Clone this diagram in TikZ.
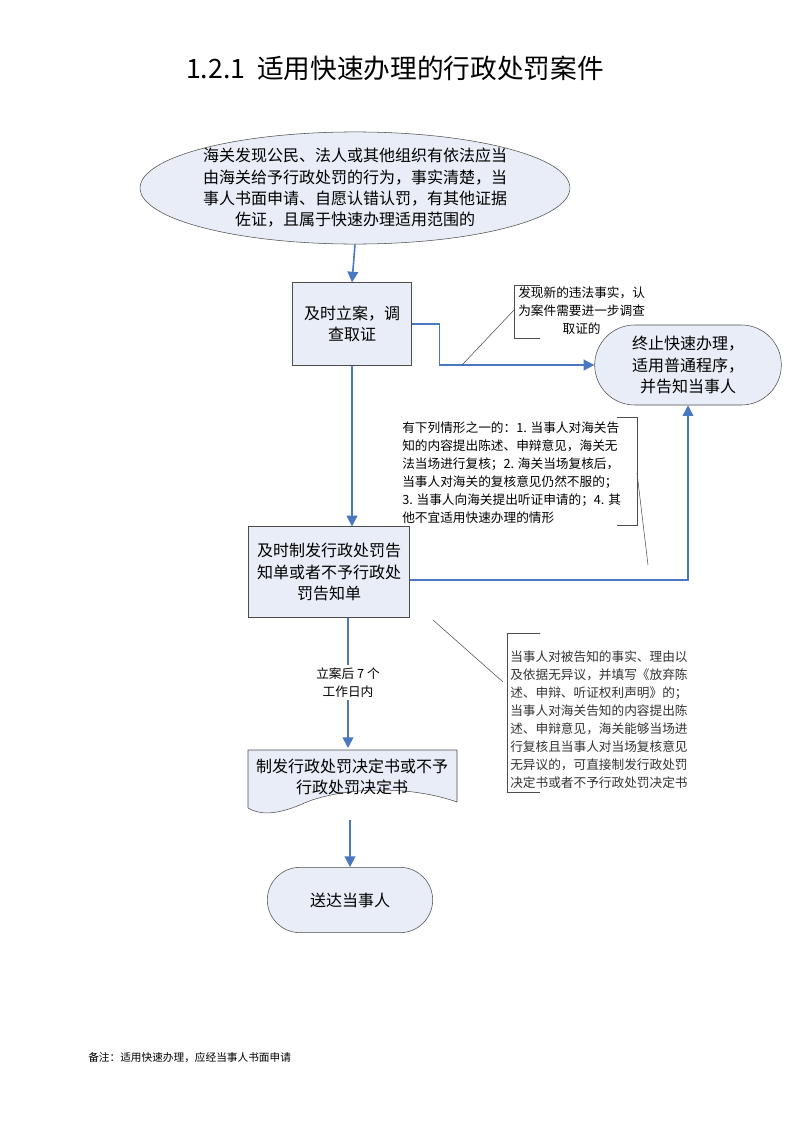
\documentclass[tikz,border=0pt]{standalone}
\usepackage{fontspec}
\setmainfont{Noto Sans CJK SC}
\usetikzlibrary{shapes.geometric,shapes.misc,arrows.meta}
\definecolor{boxfill}{HTML}{E9EDF7}
\definecolor{flowblue}{HTML}{4A78C0}
\tikzset{
 box/.style={draw=black!70, fill=boxfill, align=center, font=\fontsize{12}{16}\selectfont, inner sep=0pt},
 term/.style={box, rounded rectangle},
 flow/.style={draw=flowblue, line width=1.2pt, -{Triangle[length=8pt,width=8pt]}},
 lead/.style={draw=black!70, line width=0.4pt},
 note/.style={align=left, font=\fontsize{9.5}{13.5}\selectfont, inner sep=0pt}
}
\begin{document}
\begin{tikzpicture}[x=0.75pt,y=-0.75pt]
 \useasboundingbox (0,0) rectangle (800,1131);

 %title
 \node (title) at (395,68) {\fontsize{20}{24}\selectfont 1.2.1\ \ 适用快速办理的行政处罚案件};

 %main nodes
 \node[box, ellipse, minimum width=242pt, minimum height=84pt] (start) at (355,188)
  {海关发现公民、法人或其他组织有依法应当\\由海关给予行政处罚的行为，事实清楚，当\\事人书面申请、自愿认错认罚，有其他证据\\佐证，且属于快速办理适用范围的};
 \node[box, minimum width=89pt, minimum height=62pt] (case) at (352,324) {及时立案，调\\查取证};
 \node[term, minimum width=140pt, minimum height=60pt] (stop) at (688,365) {终止快速办理，\\适用普通程序，\\并告知当事人};
 \node[box, minimum width=121pt, minimum height=68pt] (notice) at (329,572) {及时制发行政处罚告\\知单或者不予行政处\\罚告知单};

 %document shape
 \coordinate (dtl) at (248,750);
 \coordinate (dbr) at (457,800);
 \path[box] (248,750) -- (457,750) -- (457,802)
  .. controls (400,782) and (330,790) .. (300,805)
  .. controls (275,815) and (260,815) .. (248,808) -- cycle;
 \node[align=center, font=\fontsize{12}{16}\selectfont, inner sep=0pt] (decide) at (352,777) {制发行政处罚决定书或不予\\行政处罚决定书};
 \coordinate (decbot) at (350,820);
 \coordinate (dectop) at (348,748);

 \node[term, minimum width=124pt, minimum height=49pt] (serve) at (350,900) {送达当事人};

 %flows
 \draw[flow] (start.south) -- (case.north);
 \draw[flow] (case.east) -- ++(28,0) |- (stop.west);
 \draw[flow] (case.south) -- (notice.north -| case.south);
 \draw[flow] ([yshift=-6pt]notice.east) -| (stop.south);
 \draw[flow] (notice.south -| dectop) -- node[fill=white, note, align=center, inner sep=2pt] (days) {立案后 7 个\\工作日内} (dectop);
 \draw[flow] (decbot) -- (serve.north);

 %callouts
 \node[note, align=center, anchor=north west] (new) at (518,287) {发现新的违法事实，认\\为案件需要进一步调查\\取证的};
 \draw[lead] (540,285) -- (514,285) -- (514,338) -- (540,338);
 \draw[lead] (514,310) -- (462,365);

 \node[note, anchor=north west] (cases) at (402,422) {有下列情形之一的：1. 当事人对海关告\\知的内容提出陈述、申辩意见，海关无\\法当场进行复核；2. 海关当场复核后，\\当事人对海关的复核意见仍然不服的；\\3. 当事人向海关提出听证申请的；4. 其\\他不宜适用快速办理的情形};
 \draw[lead] (617,417) -- (637,417) -- (637,525) -- (617,525);
 \draw[lead] (637,473) -- (648,565);

 \node[note, anchor=north west, text=black!80] (waive) at (510,650) {当事人对被告知的事实、理由以\\及依据无异议，并填写《放弃陈\\述、申辩、听证权利声明》的；\\当事人对海关告知的内容提出陈\\述、申辩意见，海关能够当场进\\行复核且当事人对当场复核意见\\无异议的，可直接制发行政处罚\\决定书或者不予行政处罚决定书};
 \draw[lead] (540,633) -- (507,633) -- (507,792) -- (540,792);
 \draw[lead] (433,620) -- (503,682);

 %footnote
 \node[anchor=west, font=\fontsize{8}{10}\selectfont, inner sep=0pt] (remark) at (88,1058) {备注：适用快速办理，应经当事人书面申请};
\end{tikzpicture}
\end{document}
